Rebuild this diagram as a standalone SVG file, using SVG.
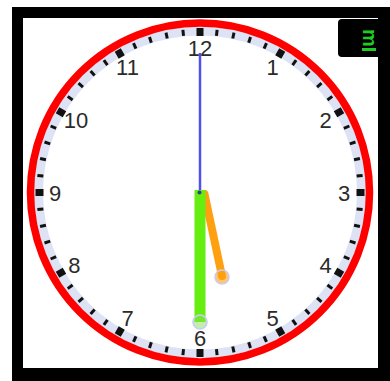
<svg xmlns="http://www.w3.org/2000/svg" xmlns:xlink="http://www.w3.org/1999/xlink" width="390" height="381" viewBox="0 0 390 381">
<style>
.num{font-family:"Liberation Sans",Arial,sans-serif;font-size:22px;fill:#2b2b2b;text-anchor:middle}
.mt{stroke:#111;stroke-width:3}
.ht{fill:#111}
</style>
<defs>
<line id="mt" class="mt" x1="200" y1="29" x2="200" y2="35"/>
<rect id="ht" class="ht" x="196.5" y="28" width="7" height="8"/>
<clipPath id="boxclip"><rect x="338" y="19" width="40" height="38"/></clipPath>
</defs>
<rect x="0" y="0" width="390" height="381" fill="#fff"/>
<rect x="12" y="7" width="378" height="374" fill="#000"/>
<rect x="23" y="18" width="355" height="350" fill="#fff"/>
<g id="display">
<rect x="338" y="19" width="48" height="38" rx="4" fill="#000"/>
<g clip-path="url(#boxclip)">
<text x="0" y="0" transform="translate(363 29) rotate(90)" font-family="Liberation Sans,Arial,sans-serif" font-size="20" font-weight="bold" fill="#1fcc1f">m</text>
<rect x="362" y="48" width="14" height="3" fill="#1fcc1f"/>
</g>
</g>
<g id="face">
<circle cx="200" cy="192.5" r="161.5" fill="none" stroke="#dde2f4" stroke-width="9"/>
<circle cx="200" cy="192.5" r="169.5" fill="none" stroke="#f00" stroke-width="7.5"/>
</g>
<g id="ticks">
<use xlink:href="#ht" transform="rotate(0 200 192.5)"/>
<use xlink:href="#mt" transform="rotate(6 200 192.5)"/>
<use xlink:href="#mt" transform="rotate(12 200 192.5)"/>
<use xlink:href="#mt" transform="rotate(18 200 192.5)"/>
<use xlink:href="#mt" transform="rotate(24 200 192.5)"/>
<use xlink:href="#ht" transform="rotate(30 200 192.5)"/>
<use xlink:href="#mt" transform="rotate(36 200 192.5)"/>
<use xlink:href="#mt" transform="rotate(42 200 192.5)"/>
<use xlink:href="#mt" transform="rotate(48 200 192.5)"/>
<use xlink:href="#mt" transform="rotate(54 200 192.5)"/>
<use xlink:href="#ht" transform="rotate(60 200 192.5)"/>
<use xlink:href="#mt" transform="rotate(66 200 192.5)"/>
<use xlink:href="#mt" transform="rotate(72 200 192.5)"/>
<use xlink:href="#mt" transform="rotate(78 200 192.5)"/>
<use xlink:href="#mt" transform="rotate(84 200 192.5)"/>
<use xlink:href="#ht" transform="rotate(90 200 192.5)"/>
<use xlink:href="#mt" transform="rotate(96 200 192.5)"/>
<use xlink:href="#mt" transform="rotate(102 200 192.5)"/>
<use xlink:href="#mt" transform="rotate(108 200 192.5)"/>
<use xlink:href="#mt" transform="rotate(114 200 192.5)"/>
<use xlink:href="#ht" transform="rotate(120 200 192.5)"/>
<use xlink:href="#mt" transform="rotate(126 200 192.5)"/>
<use xlink:href="#mt" transform="rotate(132 200 192.5)"/>
<use xlink:href="#mt" transform="rotate(138 200 192.5)"/>
<use xlink:href="#mt" transform="rotate(144 200 192.5)"/>
<use xlink:href="#ht" transform="rotate(150 200 192.5)"/>
<use xlink:href="#mt" transform="rotate(156 200 192.5)"/>
<use xlink:href="#mt" transform="rotate(162 200 192.5)"/>
<use xlink:href="#mt" transform="rotate(168 200 192.5)"/>
<use xlink:href="#mt" transform="rotate(174 200 192.5)"/>
<use xlink:href="#ht" transform="rotate(180 200 192.5)"/>
<use xlink:href="#mt" transform="rotate(186 200 192.5)"/>
<use xlink:href="#mt" transform="rotate(192 200 192.5)"/>
<use xlink:href="#mt" transform="rotate(198 200 192.5)"/>
<use xlink:href="#mt" transform="rotate(204 200 192.5)"/>
<use xlink:href="#ht" transform="rotate(210 200 192.5)"/>
<use xlink:href="#mt" transform="rotate(216 200 192.5)"/>
<use xlink:href="#mt" transform="rotate(222 200 192.5)"/>
<use xlink:href="#mt" transform="rotate(228 200 192.5)"/>
<use xlink:href="#mt" transform="rotate(234 200 192.5)"/>
<use xlink:href="#ht" transform="rotate(240 200 192.5)"/>
<use xlink:href="#mt" transform="rotate(246 200 192.5)"/>
<use xlink:href="#mt" transform="rotate(252 200 192.5)"/>
<use xlink:href="#mt" transform="rotate(258 200 192.5)"/>
<use xlink:href="#mt" transform="rotate(264 200 192.5)"/>
<use xlink:href="#ht" transform="rotate(270 200 192.5)"/>
<use xlink:href="#mt" transform="rotate(276 200 192.5)"/>
<use xlink:href="#mt" transform="rotate(282 200 192.5)"/>
<use xlink:href="#mt" transform="rotate(288 200 192.5)"/>
<use xlink:href="#mt" transform="rotate(294 200 192.5)"/>
<use xlink:href="#ht" transform="rotate(300 200 192.5)"/>
<use xlink:href="#mt" transform="rotate(306 200 192.5)"/>
<use xlink:href="#mt" transform="rotate(312 200 192.5)"/>
<use xlink:href="#mt" transform="rotate(318 200 192.5)"/>
<use xlink:href="#mt" transform="rotate(324 200 192.5)"/>
<use xlink:href="#ht" transform="rotate(330 200 192.5)"/>
<use xlink:href="#mt" transform="rotate(336 200 192.5)"/>
<use xlink:href="#mt" transform="rotate(342 200 192.5)"/>
<use xlink:href="#mt" transform="rotate(348 200 192.5)"/>
<use xlink:href="#mt" transform="rotate(354 200 192.5)"/>
</g>
<g id="numbers">
<text class="num" x="200" y="55.5">12</text>
<text class="num" x="272.5" y="74.8">1</text>
<text class="num" x="325.6" y="128">2</text>
<text class="num" x="344" y="200.5">3</text>
<text class="num" x="325.6" y="273">4</text>
<text class="num" x="272.5" y="326">5</text>
<text class="num" x="200" y="345.5">6</text>
<text class="num" x="127.5" y="326">7</text>
<text class="num" x="74.4" y="273">8</text>
<text class="num" x="55" y="200.5">9</text>
<text class="num" x="76" y="128">10</text>
<text class="num" x="127.5" y="74.8">11</text>
</g>
<g id="hands">
<line x1="200" y1="192" x2="200" y2="53" stroke="#5050ee" stroke-width="2.5"/>
<line x1="204.5" y1="194" x2="222" y2="276" stroke="#ffa010" stroke-width="8" stroke-linecap="round"/>
<circle cx="222" cy="277" r="7" fill="#ffa010" fill-opacity="0.6" stroke="#c8cdf4" stroke-width="1.6"/>
<line x1="200" y1="190" x2="200" y2="322" stroke="#66ee11" stroke-width="11"/>
<circle cx="200" cy="322" r="7" fill="#88dd55" fill-opacity="0.5" stroke="#c8cdf4" stroke-width="1.6"/>
<circle cx="199.5" cy="192.5" r="2" fill="#3a3a9a"/>
</g>
</svg>
